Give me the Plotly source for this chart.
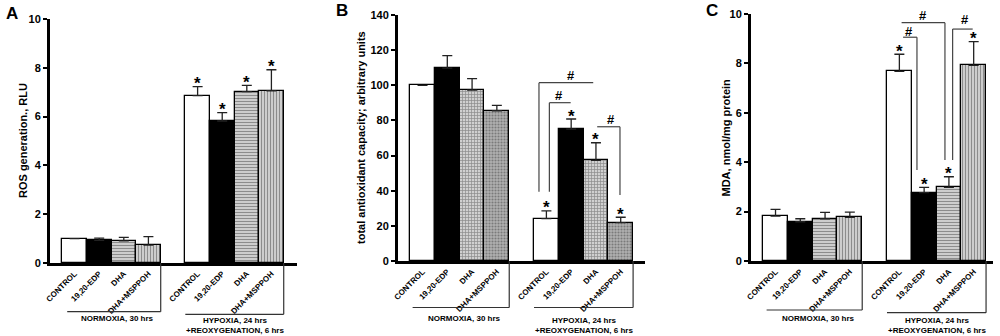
import plotly.graph_objects as go

# ---------------- data ----------------
categories = ["CONTROL", "19,20-EDP", "DHA", "DHA+MSPPOH"]
x_positions = [0, 1, 2, 3, 5, 6, 7, 8]
tick_labels = categories + categories

ros_mean = [1.00, 0.93, 0.91, 0.73, 6.86, 5.82, 7.02, 7.06]
ros_sem = [0.00, 0.09, 0.14, 0.35, 0.37, 0.34, 0.26, 0.86]

tac_mean = [100.0, 109.8, 97.3, 85.5, 24.1, 75.0, 57.3, 21.8]
tac_sem = [0.0, 7.1, 6.5, 3.1, 4.4, 5.8, 10.0, 3.1]

mda_mean = [1.82, 1.59, 1.71, 1.77, 7.68, 2.77, 2.98, 7.92]
mda_sem = [0.27, 0.12, 0.26, 0.21, 0.69, 0.21, 0.43, 0.96]

star_idx = [4, 5, 6, 7]

group_normoxia = "NORMOXIA, 30 hrs"
group_hypoxia = "HYPOXIA, 24 hrs<br>+REOXYGENATION, 6 hrs"

FONT = "Arial, Liberation Sans, sans-serif"
W, H = 1000, 336


def px(x):
    return x / W


def py(y):
    return 1 - y / H


fig = go.Figure()

panels = [
    dict(name="A", mean=ros_mean, sem=ros_sem, xa="x", ya="y",
         xdom=[px(50), px(297)], ydom=[py(263), py(19)], xr=[-1.0, 9.04], yr=[0, 10], dt=2,
         title="ROS generation., RLU", title_x=px(23), letter_xy=(px(12), py(14)),
         shapes=["", "", "-", "|"],
         colors=["white", "black", "#d4d4d4", "#d4d4d4"],
         fg=["white", "black", "#8a8a8a", "#8a8a8a"],
         normo=(-0.30, 3.5, py(311.7)), hypo=(4.5, 8.5, py(314.3)),
         lab_y=(py(318), py(325))),
    dict(name="B", mean=tac_mean, sem=tac_sem, xa="x2", ya="y2",
         xdom=[px(398), px(645)], ydom=[py(261), py(15)], xr=[-0.99, 8.98], yr=[0, 140], dt=20,
         title="total antioxidant capacity; arbitrary units", title_x=px(361),
         letter_xy=(px(341.5), py(11)),
         shapes=["", "", "+", "."],
         colors=["white", "black", "#d0d0d0", "#b0b0b0"],
         fg=["white", "black", "#808080", "#959595"],
         normo=(-0.40, 3.5, py(307.5)), hypo=(4.5, 8.5, py(307.5)),
         lab_y=(py(318), py(325))),
    dict(name="C", mean=mda_mean, sem=mda_sem, xa="x3", ya="y3",
         xdom=[px(751), px(993)], ydom=[py(261), py(14)], xr=[-0.99, 8.78], yr=[0, 10], dt=2,
         title="MDA, nmol/mg protein", title_x=px(725), letter_xy=(px(712), py(11)),
         shapes=["", "", "-", "|"],
         colors=["white", "black", "#d4d4d4", "#d4d4d4"],
         fg=["white", "black", "#8a8a8a", "#8a8a8a"],
         normo=(-0.36, 3.5, py(310)), hypo=(4.5, 8.5, py(312.7)),
         lab_y=(py(318), py(325))),
]

layout_axes = {}
annotations = []
shapes = []

for i, p in enumerate(panels):
    sfx = "" if i == 0 else str(i + 1)
    fig.add_trace(go.Bar(
        x=x_positions, y=p["mean"], width=1.0,
        xaxis=p["xa"], yaxis=p["ya"],
        marker=dict(color=p["colors"] * 2,
                    line=dict(color="black", width=1.3),
                    pattern=dict(shape=p["shapes"] * 2, fgcolor=p["fg"] * 2,
                                 bgcolor=p["colors"] * 2, size=3, solidity=0.4,
                                 fillmode="overlay")),
        error_y=dict(type="data", symmetric=False, array=p["sem"],
                     arrayminus=[0] * 8, color="#222222", thickness=1.3, width=5),
        showlegend=False, hoverinfo="skip",
    ))
    layout_axes["xaxis" + sfx] = dict(
        domain=p["xdom"], range=p["xr"], anchor=p["ya"], automargin=False,
        showline=True, linecolor="black", linewidth=3,
        showgrid=False, zeroline=False, ticks="",
        tickmode="array", tickvals=x_positions, ticktext=tick_labels,
        tickangle=-45, tickfont=dict(family=FONT, size=8, color="black", weight="bold"),
    )
    layout_axes["yaxis" + sfx] = dict(
        domain=p["ydom"], range=p["yr"], anchor=p["xa"], dtick=p["dt"], automargin=False,
        showline=True, linecolor="black", linewidth=3,
        showgrid=False, zeroline=False, ticks="outside", ticklen=4, tickwidth=2,
        tickcolor="black",
        tickfont=dict(family=FONT, size=11, color="black", weight="bold"),
    )
    # y title
    annotations.append(dict(
        text="<b>%s</b>" % p["title"], xref="paper", yref="paper",
        x=p["title_x"], y=(p["ydom"][0] + p["ydom"][1]) / 2, textangle=-90,
        showarrow=False, font=dict(family=FONT, size=11, color="black"),
        xanchor="center", yanchor="middle"))
    # panel letter
    annotations.append(dict(
        text="<b>%s</b>" % p["name"], xref="paper", yref="paper",
        x=p["letter_xy"][0], y=p["letter_xy"][1], showarrow=False,
        font=dict(family=FONT, size=17, color="black"),
        xanchor="center", yanchor="middle"))
    # stars
    for k in star_idx:
        annotations.append(dict(
            text="<b>*</b>", xref=p["xa"], yref=p["ya"],
            x=x_positions[k], y=p["mean"][k] + p["sem"][k], yshift=3,
            showarrow=False, font=dict(family=FONT, size=17, color="black"),
            xanchor="center", yanchor="middle"))
    # group brackets
    y_axis_paper = p["ydom"][0]
    for (gx0, gx1, gy), gtxt, ly in [(p["normo"], group_normoxia, p["lab_y"][0]),
                                     (p["hypo"], group_hypoxia, p["lab_y"][1])]:
        shapes.append(dict(type="line", xref=p["xa"], yref="paper",
                           x0=gx0, x1=gx1, y0=gy, y1=gy,
                           line=dict(color="#333333", width=1.2)))
        shapes.append(dict(type="line", xref=p["xa"], yref="paper",
                           x0=gx1, x1=gx1, y0=gy, y1=y_axis_paper,
                           line=dict(color="#333333", width=1.2)))
        annotations.append(dict(
            text="<b>%s</b>" % gtxt, xref=p["xa"], yref="paper",
            x=(gx0 + gx1) / 2 + (0.15 if gtxt == group_normoxia else 0.0), y=ly,
            showarrow=False, font=dict(family=FONT, size=8, color="black"),
            xanchor="center", yanchor="middle"))

# significance brackets (#): (x_horiz0, x_horiz1, y_horiz, x_vert, y_vert_bottom, x_hash, y_hash)
brackets_B = [
    (4.70, 6.89, 101.5, 4.70, 39.4, 5.98, 105.5),
    (5.12, 5.98, 90.1, 5.12, 39.4, 5.52, 94.1),
    (7.05, 7.97, 76.4, 7.97, 37.6, 7.59, 80.6),
]
brackets_C = [
    (5.09, 6.84, 9.65, 6.84, 4.09, 5.95, 9.93),
    (5.15, 5.71, 9.06, 5.71, 3.68, 5.39, 9.28),
    (7.15, 7.96, 9.39, 7.15, 4.09, 7.65, 9.76),
]
for xa, ya, brs in [("x2", "y2", brackets_B), ("x3", "y3", brackets_C)]:
    for hx0, hx1, hy, vx, vy, tx, ty in brs:
        shapes.append(dict(type="line", xref=xa, yref=ya, x0=hx0, x1=hx1, y0=hy, y1=hy,
                           line=dict(color="#444444", width=1.2)))
        shapes.append(dict(type="line", xref=xa, yref=ya, x0=vx, x1=vx, y0=hy, y1=vy,
                           line=dict(color="#444444", width=1.2)))
        annotations.append(dict(text="<b>#</b>", xref=xa, yref=ya, x=tx, y=ty,
                                showarrow=False, font=dict(family=FONT, size=13, color="black"),
                                xanchor="center", yanchor="middle"))

fig.update_layout(
    width=W, height=H,
    margin=dict(l=0, r=0, t=0, b=0, autoexpand=False),
    paper_bgcolor="white", plot_bgcolor="white",
    font=dict(family=FONT, color="black"),
    bargap=0,
    annotations=annotations, shapes=shapes,
    **layout_axes,
)

fig.write_html("out.html", config={"displayModeBar": False},
               post_script="document.body.style.margin='0px';")
